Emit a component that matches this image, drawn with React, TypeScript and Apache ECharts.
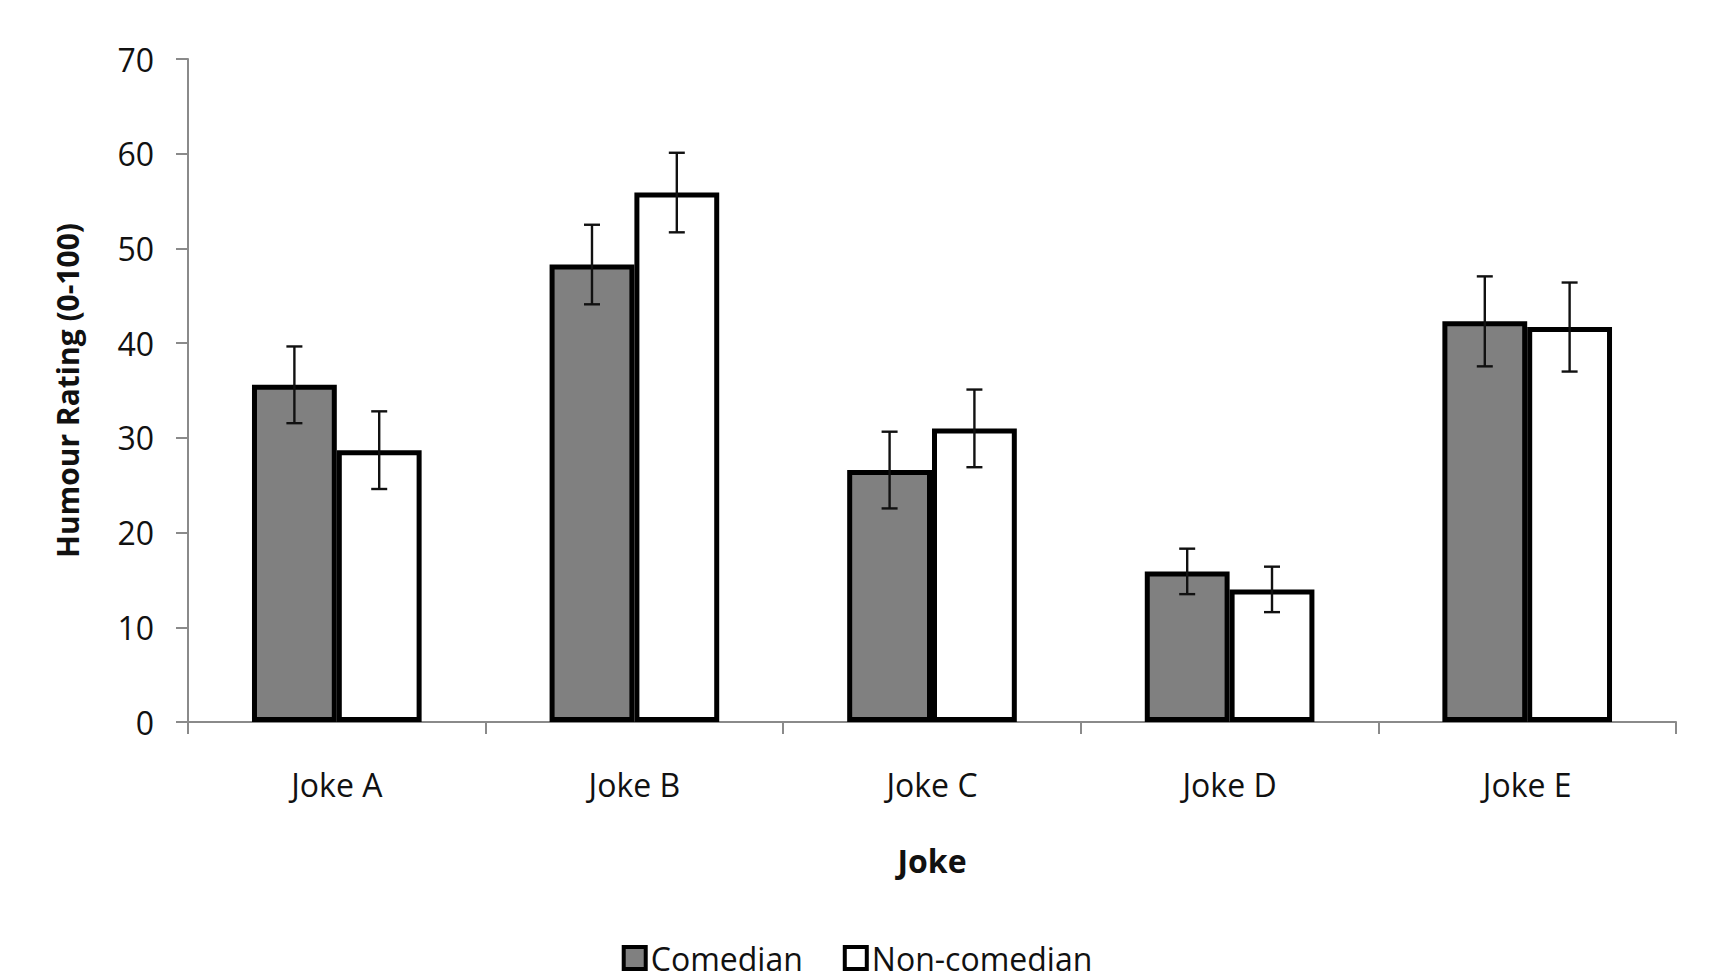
import React, { useEffect, useRef } from "react";
import * as echarts from "echarts";

const categories = ["Joke A", "Joke B", "Joke C", "Joke D", "Joke E"];
const comedian = [35.6, 48.3, 26.6, 15.9, 42.3];
const nonComedian = [28.7, 55.9, 31.0, 14.0, 41.7];
const comedianErr = [4.05, 4.2, 4.05, 2.4, 4.75];
const nonComedianErr = [4.1, 4.2, 4.1, 2.4, 4.7];
const yTicks = { min: 0, max: 70, interval: 10 };

const FONT = "'Open Sans', 'Noto Sans', sans-serif";
const CAT_GAP = 0.43;

function errorSeries(name: string, values: number[], errs: number[], side: number) {
  return {
    type: "custom",
    name: name + " error",
    z: 10,
    silent: true,
    data: values.map((v, i) => [i, v, errs[i]]),
    encode: { x: 0, y: 1 },
    renderItem: (params: any, api: any) => {
      const idx = api.value(0);
      const v = api.value(1);
      const e = api.value(2);
      const band = api.size([1, 0])[0];
      const barW = (band * (1 - CAT_GAP)) / 2;
      const c = api.coord([idx, v]);
      const x = c[0] + side * barW / 2;
      const top = api.coord([idx, v + e])[1];
      const bot = api.coord([idx, v - e])[1];
      const cap = 8;
      const st = { stroke: "#111", lineWidth: 2.4 };
      return {
        type: "group",
        children: [
          { type: "line", shape: { x1: x, y1: top, x2: x, y2: bot }, style: st },
          { type: "line", shape: { x1: x - cap, y1: top, x2: x + cap, y2: top }, style: st },
          { type: "line", shape: { x1: x - cap, y1: bot, x2: x + cap, y2: bot }, style: st },
        ],
      };
    },
  };
}

export default function App() {
  const ref = useRef<HTMLDivElement>(null);
  useEffect(() => {
    if (!ref.current) return;
    const chart = echarts.init(ref.current, undefined, { renderer: "svg" });
    chart.setOption({
      animation: false,
      backgroundColor: "#ffffff",
      textStyle: { fontFamily: FONT },
      grid: { left: 188, right: 38, top: 59, bottom: 257 },
      legend: {
        bottom: 0,
        left: "center",
        itemWidth: 22,
        itemHeight: 22,
        itemGap: 40,
        icon: "rect",
        textStyle: { fontSize: 32, color: "#111", fontFamily: FONT },
        data: [
          { name: "Comedian", itemStyle: { color: "#808080", borderColor: "#000", borderWidth: 4 } },
          { name: "Non-comedian", itemStyle: { color: "#ffffff", borderColor: "#000", borderWidth: 4 } },
        ],
      },
      xAxis: {
        type: "category",
        data: categories,
        name: "Joke",
        nameLocation: "middle",
        nameGap: 122,
        nameTextStyle: { fontSize: 32, fontWeight: "bold", color: "#111", fontFamily: FONT },
        axisLine: { lineStyle: { color: "#8a8a8a", width: 2 } },
        axisTick: { show: true, length: 12, alignWithLabel: false, lineStyle: { color: "#8a8a8a", width: 2 } },
        axisLabel: { fontSize: 32, color: "#111", margin: 46, fontFamily: FONT },
      },
      yAxis: {
        type: "value",
        min: yTicks.min,
        max: yTicks.max,
        interval: yTicks.interval,
        name: "Humour Rating (0-100)",
        nameLocation: "middle",
        nameGap: 106,
        nameTextStyle: { fontSize: 30, fontWeight: "bold", color: "#111", fontFamily: FONT },
        axisLine: { show: true, lineStyle: { color: "#8a8a8a", width: 2 } },
        axisTick: { show: true, length: 12, lineStyle: { color: "#8a8a8a", width: 2 } },
        splitLine: { show: false },
        axisLabel: { fontSize: 32, color: "#111", margin: 34, fontFamily: FONT },
      },
      series: [
        {
          type: "bar",
          name: "Comedian",
          data: comedian,
          barGap: "0%",
          barCategoryGap: "43%",
          itemStyle: { color: "#808080", borderColor: "#000", borderWidth: 5 },
        },
        {
          type: "bar",
          name: "Non-comedian",
          data: nonComedian,
          barGap: "0%",
          barCategoryGap: "43%",
          itemStyle: { color: "#ffffff", borderColor: "#000", borderWidth: 5 },
        },
        errorSeries("Comedian", comedian, comedianErr, -1),
        errorSeries("Non-comedian", nonComedian, nonComedianErr, 1),
      ],
    });
    return () => chart.dispose();
  }, []);
  return (
    <div
      ref={ref}
      style={{ position: "fixed", left: 0, top: 0, width: 1714, height: 979 }}
    />
  );
}
